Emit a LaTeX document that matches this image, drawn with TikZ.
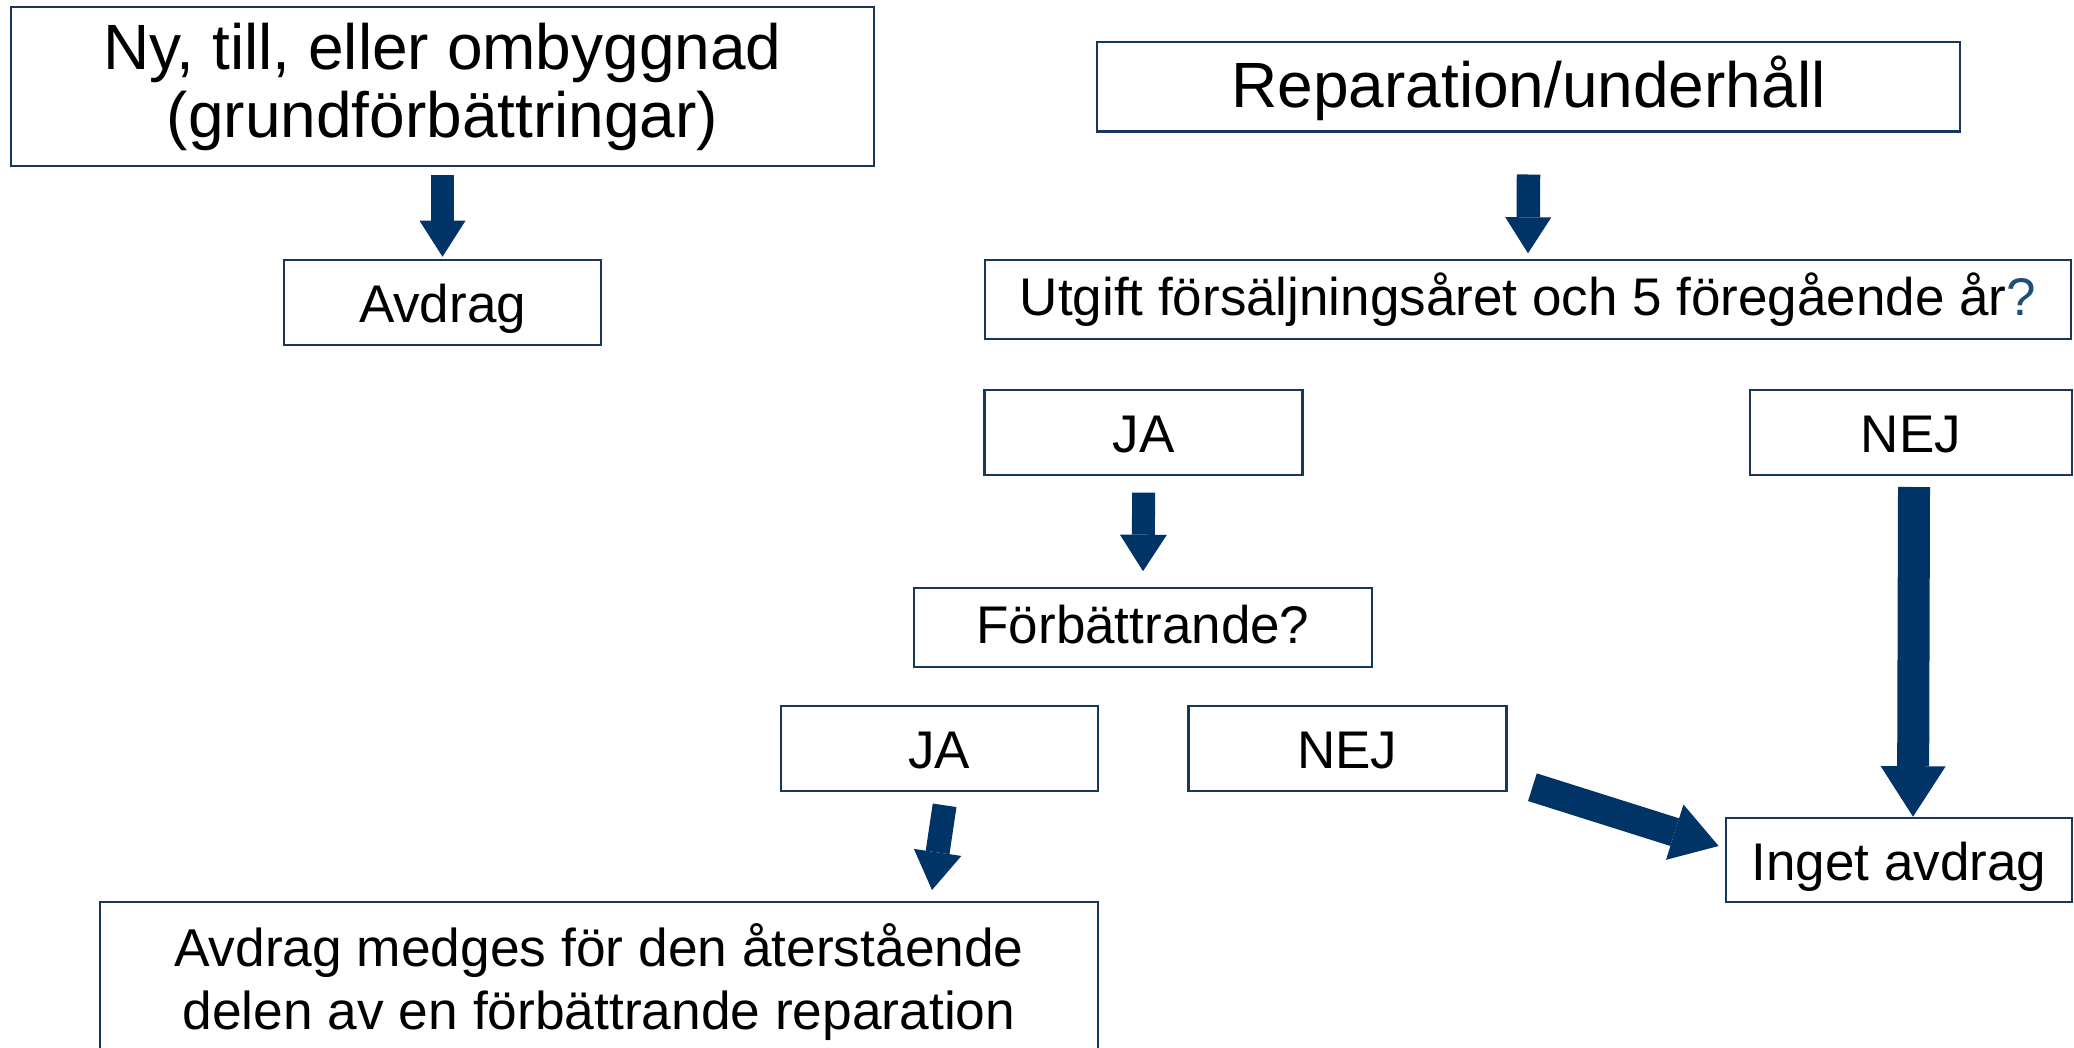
\documentclass[tikz,border=0pt]{standalone}
\usepackage{fontspec}
\setmainfont{Liberation Sans}
\usetikzlibrary{arrows.meta}
\definecolor{arrowblue}{HTML}{003366}
\definecolor{boxblue}{HTML}{17375E}
\definecolor{qblue}{HTML}{1F4E79}
\begin{document}
\begin{tikzpicture}[x=1pt,y=-1pt,
  basebox/.style={draw=boxblue, line width=2.5pt, rectangle, inner sep=0pt, outer sep=0pt, align=center},
  box/.style={basebox, font=\fontsize{53}{63}\selectfont, text height=47pt, text depth=7pt},
  lowbox/.style={box, text height=43pt, text depth=11pt},
  mlbox/.style={basebox, font=\fontsize{53.3}{63}\selectfont},
  bigbox/.style={basebox, font=\fontsize{64}{68}\selectfont},
  blockarrow/.style n args={3}{draw=arrowblue, line width=#1, -{Triangle[width=#2,length=#3,line width=0pt]}}]
\useasboundingbox (0,0) rectangle (2074,1047);
\begin{scope}
\clip (0,0) rectangle (2074,1047);
% boxes
\node[bigbox, minimum width=863pt, minimum height=159pt] (nybox) at (442.5,86.5) {Ny, till, eller ombyggnad\\(grundförbättringar)};
\node[box, minimum width=317pt, minimum height=85pt] (avdrag) at (442.5,302.5) {Avdrag};
\node[bigbox, text height=51pt, text depth=9pt, minimum width=863pt, minimum height=89.5pt] (rep) at (1528.5,86.75) {Reparation/underhåll};
\node[lowbox, minimum width=1086pt, minimum height=79pt] (utgift) at (1528,299.5) {Utgift försäljningsåret och 5 föregående år\textcolor{qblue}{?}};
\node[box, minimum width=318pt, minimum height=85pt] (ja1) at (1143.7,432.5) {JA};
\node[box, minimum width=322pt, minimum height=85pt] (nej1) at (1911,432.5) {NEJ};
\node[lowbox, minimum width=458pt, minimum height=79pt] (forb) at (1143,627.5) {Förbättrande?};
\node[box, minimum width=317pt, minimum height=85pt] (ja2) at (939.35,748.5) {JA};
\node[box, minimum width=318pt, minimum height=85pt] (nej2) at (1347.4,748.5) {NEJ};
\node[box, minimum width=346pt, minimum height=84pt] (inget) at (1899,860) {Inget avdrag};
\node[mlbox, minimum width=998pt, minimum height=160pt] (avdmed) at (599,982) {Avdrag medges för den återstående\\delen av en förbättrande reparation};
% arrows
\draw[blockarrow={23pt}{46pt}{36pt}] ([yshift=-9pt]nybox.south) -- ([yshift=3.3pt]avdrag.north);
\draw[blockarrow={23.5pt}{46pt}{36pt}] ([yshift=-43pt]rep.south) -- ([yshift=6.7pt]utgift.north);
\draw[blockarrow={23pt}{47pt}{36.5pt}] ([yshift=-17.6pt]ja1.south) -- ([yshift=16.8pt]forb.north);
\draw[blockarrow={32pt}{65pt}{50.5pt}] ([xshift=3pt,yshift=-12pt]nej1.south) -- ([xshift=14pt,yshift=1.3pt]inget.north);
\draw[blockarrow={24pt}{48pt}{38pt}] ([xshift=5.25pt,yshift=-14.3pt]ja2.south) -- ([xshift=333pt,yshift=12pt]avdmed.north);
\draw[blockarrow={29pt}{58pt}{46pt}] ([xshift=26pt,yshift=3.8pt]nej2.south east) -- ([xshift=-7.4pt,yshift=14pt]inget.west);
\end{scope}
\end{tikzpicture}
\end{document}
